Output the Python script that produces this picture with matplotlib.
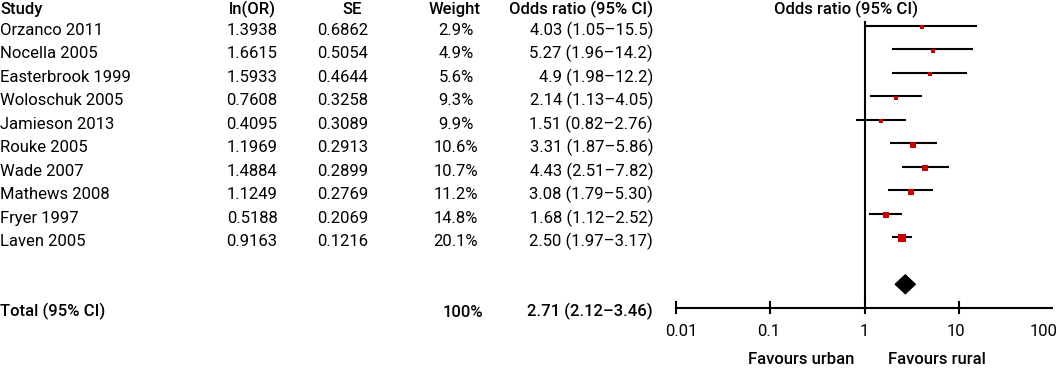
import matplotlib
matplotlib.use("Agg")
import matplotlib.pyplot as plt
import matplotlib.transforms as mtransforms
import numpy as np

# ---- data ----
studies = ["Orzanco 2011", "Nocella 2005", "Easterbrook 1999", "Woloschuk 2005",
           "Jamieson 2013", "Rouke 2005", "Wade 2007", "Mathews 2008",
           "Fryer 1997", "Laven 2005"]
ln_or = [1.3938, 1.6615, 1.5933, 0.7608, 0.4095, 1.1969, 1.4884, 1.1249, 0.5188, 0.9163]
se = [0.6862, 0.5054, 0.4644, 0.3258, 0.3089, 0.2913, 0.2899, 0.2769, 0.2069, 0.1216]
weight = [2.9, 4.9, 5.6, 9.3, 9.9, 10.6, 10.7, 11.2, 14.8, 20.1]
odds_ratio = [4.03, 5.27, 4.9, 2.14, 1.51, 3.31, 4.43, 3.08, 1.68, 2.50]
ci_low = [1.05, 1.96, 1.98, 1.13, 0.82, 1.87, 2.51, 1.79, 1.12, 1.97]
ci_high = [15.5, 14.2, 12.2, 4.05, 2.76, 5.86, 7.82, 5.30, 2.52, 3.17]
or_labels = ["4.03 (1.05\u201315.5)", "5.27 (1.96\u201314.2)", "4.9 (1.98\u201312.2)",
             "2.14 (1.13\u20134.05)", "1.51 (0.82\u20132.76)", "3.31 (1.87\u20135.86)",
             "4.43 (2.51\u20137.82)", "3.08 (1.79\u20135.30)", "1.68 (1.12\u20132.52)",
             "2.50 (1.97\u20133.17)"]
total_or, total_low, total_high = 2.71, 2.12, 3.46
total_label = "2.71 (2.12\u20133.46)"
total_weight = "100%"
headers = ["Study", "ln(OR)", "SE", "Weight", "Odds ratio (95% CI)"]
x_ticks = [0.01, 0.1, 1, 10, 100]
x_tick_labels = ["0.01", "0.1", "1", "10", "100"]

# ---- figure ----
W, H = 1064, 368
fig = plt.figure(figsize=(W / 100, H / 100), dpi=100)
plt.rcParams['font.family'] = ['Roboto', 'DejaVu Sans']
FS = 12
HW = 'medium'

row0_px, row_step = 26.0, 23.48
top_row = -row0_px / row_step
bot_row = (H - row0_px) / row_step

ax = fig.add_axes([676 / W, 0, (1053 - 676) / W, 1])
ax.set_xscale('log')
ax.set_xlim(0.01, 100)
ax.set_ylim(bot_row, top_row)
ax.axis('off')

tr = mtransforms.blended_transform_factory(fig.transFigure, ax.transData)

def X(px):
    return px / W

n = len(studies)
rows = np.arange(n)
total_row = 12
diamond_row = 11
base_off = 0.38

# headers
hy = -0.72
ax.text(X(0), hy, headers[0], transform=tr, ha='left', va='center', fontsize=FS, fontweight=HW)
ax.text(X(252), hy, headers[1], transform=tr, ha='center', va='center', fontsize=FS, fontweight=HW)
ax.text(X(352), hy, headers[2], transform=tr, ha='center', va='center', fontsize=FS, fontweight=HW)
ax.text(X(455), hy, headers[3], transform=tr, ha='center', va='center', fontsize=FS, fontweight=HW)
ax.text(X(653), hy, headers[4], transform=tr, ha='right', va='center', fontsize=FS, fontweight=HW)
ax.text(X(846), hy, headers[4], transform=tr, ha='center', va='center', fontsize=FS, fontweight=HW)

# table rows
for i in range(n):
    y = rows[i] + base_off
    ax.text(X(0), y, studies[i], transform=tr, ha='left', va='baseline', fontsize=FS)
    ax.text(X(252), y, f"{ln_or[i]:.4f}", transform=tr, ha='center', va='baseline', fontsize=FS)
    ax.text(X(343), y, f"{se[i]:.4f}", transform=tr, ha='center', va='baseline', fontsize=FS)
    ax.text(X(456), y, f"{weight[i]}%", transform=tr, ha='center', va='baseline', fontsize=FS)
    ax.text(X(653), y, or_labels[i], transform=tr, ha='right', va='baseline', fontsize=FS)

# total row
ty = total_row + base_off
ax.text(X(0), ty, "Total (95% CI)", transform=tr, ha='left', va='baseline', fontsize=FS, fontweight=HW)
ax.text(X(463), ty, total_weight, transform=tr, ha='center', va='baseline', fontsize=FS, fontweight=HW)
ax.text(X(653), ty, total_label, transform=tr, ha='right', va='baseline', fontsize=FS, fontweight=HW)

# forest lines
for i in range(n):
    ax.plot([ci_low[i], ci_high[i]], [rows[i], rows[i]], color='black', lw=1.5,
            solid_capstyle='butt', clip_on=False, zorder=2)
    side_px = 2.8 + 0.21 * weight[i]
    ax.plot([odds_ratio[i]], [rows[i] + 0.05], marker='s', ms=side_px * 0.72,
            color='#cc0000', mec='#cc0000', mew=0, ls='none', zorder=3, clip_on=False)

# diamond
dh = 0.4
ax.fill([total_low, total_or, total_high, total_or],
        [diamond_row, diamond_row - dh, diamond_row, diamond_row + dh],
        color='black', zorder=3, clip_on=False)

# vertical line of no effect
ax.plot([1, 1], [-0.18, total_row], color='black', lw=1.5, zorder=2, clip_on=False)

# x axis
ax.plot([x_ticks[0], x_ticks[-1]], [total_row, total_row], color='black', lw=1.5,
        solid_capstyle='butt', clip_on=False)
for t in x_ticks[:-1]:
    ax.plot([t, t], [total_row - 0.26, total_row + 0.22], color='black', lw=1.5, clip_on=False)
label_dx_px = [5, -2, 0, -3, -9]
for t, lab, dx in zip(x_ticks, x_tick_labels, label_dx_px):
    ax.annotate(lab, (t, total_row + 1.02), xytext=(dx * 0.72, 0), textcoords='offset points',
                ha='center', va='center', fontsize=FS, annotation_clip=False)

ax.text(X(801), total_row + 2.2, "Favours urban", transform=tr, ha='center', va='center',
        fontsize=FS, fontweight=HW)
ax.text(X(937), total_row + 2.2, "Favours rural", transform=tr, ha='center', va='center',
        fontsize=FS, fontweight=HW)

fig.savefig("out.png", dpi=100)
